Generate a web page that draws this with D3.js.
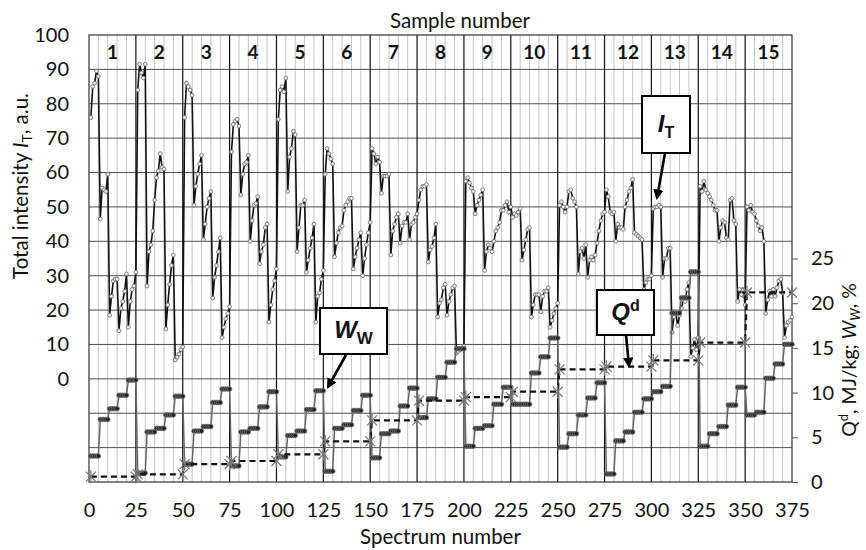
<!DOCTYPE html>
<html>
<head>
<meta charset="utf-8">
<script src="https://cdn.jsdelivr.net/npm/d3@7"></script>
<style>
  body { margin: 0; background: #fff; }
  svg text { font-family: Lato, "Open Sans", sans-serif; fill: #111; }
</style>
</head>
<body>
<svg id="chart" width="866" height="550"></svg>
<script>
// sample numbers shown in the top row
const sampleLabels = ["1","2","3","4","5","6","7","8","9","10","11","12","13","14","15"];

// total intensity I_T for spectra 1..375 (one row per sample, 25 spectra)
const intensity = [
  76, 85, 86, 89.5, 88, 46.5, 55.5, 55, 54.5, 59.5, 18.5, 24, 28.5, 29, 29, 14, 20.5, 22.5, 25.5, 30.5, 15, 22.5, 26, 27, 31,
  84, 91.5, 89, 87.5, 91.5, 27, 37, 39, 43, 52, 58.5, 60.5, 65.5, 61.5, 61, 14.5, 21.5, 27.5, 33, 36, 5.5, 6.3, 7.2, 8.5, 9.3,
  76, 86, 85, 84, 82.5, 50.5, 56, 59.5, 62.5, 65, 40.5, 45, 50, 52.5, 54.5, 23.5, 29.5, 33, 37, 41, 12, 15, 17.5, 19, 21,
  66, 74, 75, 75.5, 73.5, 53.5, 59.5, 62.5, 63, 65, 40, 46, 50.5, 51, 53, 33.5, 37, 39, 44, 45, 16.5, 21.5, 26, 28.5, 32,
  75.5, 84, 85, 83.5, 87.5, 54.5, 64.5, 67, 72, 71, 37, 44, 50.5, 50.5, 52, 31, 34.5, 38, 41, 45, 16.5, 24, 25, 29, 31.5,
  59.5, 67, 65.5, 64, 62.5, 35.5, 39.5, 42.5, 44, 44.5, 49, 50.5, 51.5, 52.5, 52.5, 32, 35.5, 38, 40.5, 42.5, 30, 35, 39, 42.5, 45.5,
  67, 65.5, 62.5, 64.5, 63, 54, 59, 59, 59, 59.5, 36, 43, 45, 47, 48, 39.5, 44.5, 45.5, 45.5, 48, 40.5, 45, 45.5, 47, 48,
  52, 55, 56, 56, 56.5, 34, 37.5, 38.5, 41, 45, 18, 22, 23, 26.5, 27.5, 18.5, 22.5, 24.5, 26.5, 27, 7.5, 8, 8.5, 9, 9.5,
  57.5, 58.5, 57, 55.5, 54.5, 48, 50.5, 52, 53.5, 55, 31.5, 37, 39, 38, 37, 40, 43, 44, 45.5, 49, 49, 50.5, 51.5, 48.5, 50,
  47, 48, 47.5, 48.5, 49.5, 34.5, 37.5, 40.5, 43.5, 44, 18, 21.5, 24.5, 24.5, 24.5, 19.5, 24, 25.5, 25.5, 26.5, 15, 17, 19, 20.5, 22,
  50.5, 51.5, 50, 48.5, 50, 54.5, 55, 52.5, 51.5, 50, 30.5, 37, 38, 35, 39, 29.5, 34.5, 35.5, 34.5, 36, 39.5, 43, 46, 48, 48.5,
  55, 53, 48.5, 48, 48.5, 40, 45, 44, 44, 43.5, 50, 52, 54.5, 55.5, 58, 42.5, 42, 41.5, 41, 40.5, 26, 28, 29, 29, 30,
  49.5, 50, 50, 50.5, 50, 29.5, 35, 35, 38, 38, 13.5, 18, 19, 15.5, 18.5, 20.5, 23, 22.5, 26, 28, 6.5, 9, 11.5, 8.5, 12,
  56, 54.5, 57.5, 55, 54, 53, 52, 50.5, 49, 49, 40, 44, 46, 45.5, 41, 40.5, 52, 52.5, 46, 45, 22.5, 26, 24.5, 26, 21.5,
  50, 49, 50.5, 48.5, 48, 46, 44.5, 43, 44, 40, 19, 23, 25.5, 24, 26, 24, 26.5, 28.5, 29, 25, 12, 15.5, 16.5, 17, 18
];

// moisture W_W, %, one value per group of 5 spectra (5 groups per sample)
const moisture = [
  2.9, 7.0, 8.2, 9.7, 11.4,
  1.0, 5.6, 6.0, 7.5, 9.6,
  2.0, 5.7, 6.2, 8.9, 10.4,
  1.8, 5.6, 6.0, 8.4, 10.1,
  2.8, 5.2, 5.7, 8.1, 10.2,
  1.2, 6.0, 6.4, 8.0, 9.7,
  2.7, 5.4, 5.7, 8.5, 10.5,
  7.2, 9.3, 11.7, 13.4, 14.9,
  4.0, 6.0, 6.3, 8.7, 10.6,
  8.7, 8.7, 12.2, 14.0, 16.1,
  3.9, 5.4, 7.5, 9.4, 11.1,
  0.9, 4.6, 5.6, 7.8, 9.3,
  10.1, 10.7, 18.9, 20.6, 23.5,
  4.0, 5.4, 6.2, 8.6, 10.6,
  7.5, 7.8, 11.6, 13.2, 15.4
];

// heat of combustion Q^d, MJ/kg, one value per sample
const heat = [0.6, 0.85, 2.0, 2.35, 3.1, 4.55, 6.9, 9.1, 9.5, 10.1, 12.6, 12.9, 13.6, 15.6, 21.2];

const xTicks = [0, 25, 50, 75, 100, 125, 150, 175, 200, 225, 250, 275, 300, 325, 350, 375];
const leftTicks = [0, 10, 20, 30, 40, 50, 60, 70, 80, 90, 100];
const rightTicks = [0, 5, 10, 15, 20, 25];

const svg = d3.select("#chart");
const plotLeft = 89, plotRight = 792, plotTop = 35, plotBottom = 482;

const x = d3.scaleLinear().domain([0, 375]).range([plotLeft, plotRight]);
const yL = d3.scaleLinear().domain([-30, 100]).range([plotBottom, plotTop]);
const yR = d3.scaleLinear().domain([0, 50]).range([plotBottom, plotTop]);

// gridlines
const grid = svg.append("g");
grid.selectAll("line.minor")
  .data(d3.range(5, 375, 5).filter(d => d % 25 !== 0))
  .join("line")
  .attr("class", "minor")
  .attr("x1", d => x(d)).attr("x2", d => x(d))
  .attr("y1", plotTop).attr("y2", plotBottom)
  .attr("stroke", "#c4c4c4").attr("stroke-width", 1);

grid.selectAll("line.hgrid")
  .data(d3.range(-20, 100, 10))
  .join("line")
  .attr("class", "hgrid")
  .attr("x1", plotLeft).attr("x2", plotRight)
  .attr("y1", d => yL(d)).attr("y2", d => yL(d))
  .attr("stroke", "#505050").attr("stroke-width", 1);

grid.selectAll("line.major")
  .data(xTicks.slice(1, -1))
  .join("line")
  .attr("class", "major")
  .attr("x1", d => x(d)).attr("x2", d => x(d))
  .attr("y1", plotTop).attr("y2", plotBottom)
  .attr("stroke", "#111").attr("stroke-width", 1.2);

svg.append("rect")
  .attr("x", plotLeft).attr("y", plotTop)
  .attr("width", plotRight - plotLeft).attr("height", plotBottom - plotTop)
  .attr("fill", "none").attr("stroke", "#333").attr("stroke-width", 1.2);

// sample numbers in the top row
svg.append("g").selectAll("text")
  .data(sampleLabels)
  .join("text")
  .attr("x", (d, i) => x(i * 25 + 12.5))
  .attr("y", (yL(100) + yL(90)) / 2 + 7)
  .attr("text-anchor", "middle")
  .attr("font-size", 19)
  .attr("font-weight", "bold")
  .text(d => d);

// axes
const axL = svg.append("g")
  .attr("transform", `translate(${plotLeft},0)`)
  .call(d3.axisLeft(yL).tickValues(leftTicks).tickSize(0).tickPadding(20));
const axB = svg.append("g")
  .attr("transform", `translate(0,${plotBottom})`)
  .call(d3.axisBottom(x).tickValues(xTicks).tickSize(0).tickPadding(21));
const axR = svg.append("g")
  .attr("transform", `translate(${plotRight},0)`)
  .call(d3.axisRight(yR).tickValues(rightTicks).tickSizeInner(6).tickSizeOuter(0).tickPadding(13));

[axL, axB, axR].forEach(a => {
  a.select(".domain").remove();
  a.selectAll("text").attr("font-size", 20).attr("fill", "#111")
    .attr("font-family", "Lato, 'Open Sans', sans-serif");
});
axR.selectAll(".tick line").attr("stroke", "#555");

// axis titles
svg.append("text")
  .attr("x", 460).attr("y", 28)
  .attr("text-anchor", "middle").attr("font-size", 20.5)
  .text("Sample number");

svg.append("text")
  .attr("x", (plotLeft + plotRight) / 2).attr("y", 544)
  .attr("text-anchor", "middle").attr("font-size", 20.5)
  .text("Spectrum number");

const tl = svg.append("text")
  .attr("transform", "translate(28,186) rotate(-90)")
  .attr("text-anchor", "middle").attr("font-size", 20.5);
tl.append("tspan").text("Total intensity ");
tl.append("tspan").attr("font-style", "italic").text("I");
tl.append("tspan").attr("font-size", 14).attr("dy", 4).text("T");
tl.append("tspan").attr("dy", -4).text(", a.u.");

const tr = svg.append("text")
  .attr("transform", "translate(856,360) rotate(-90)")
  .attr("text-anchor", "middle").attr("font-size", 19.5);
tr.append("tspan").text("Q");
tr.append("tspan").attr("font-size", 13).attr("dy", -8).text("d");
tr.append("tspan").attr("dy", 8).text(", MJ/kg; ");
tr.append("tspan").attr("font-style", "italic").text("W");
tr.append("tspan").attr("font-style", "italic").attr("font-size", 13).attr("dy", 4).text("W");
tr.append("tspan").attr("dy", -4).text(", %");

// series data
const itData = intensity.map((v, i) => ({ s: i + 1, v }));
const wData = d3.range(intensity.length).map(i => ({ s: i + 1, v: moisture[Math.floor(i / 5)] }));
const qData = heat.flatMap((v, k) => [{ s: k * 25 + 1, v }, { s: k * 25 + 25, v }]);

// I_T line
svg.append("path")
  .datum(itData)
  .attr("fill", "none").attr("stroke", "#111").attr("stroke-width", 1.6)
  .attr("d", d3.line().x(d => x(d.s)).y(d => yL(d.v)));
svg.append("g").selectAll("circle")
  .data(itData)
  .join("circle")
  .attr("cx", d => x(d.s)).attr("cy", d => yL(d.v)).attr("r", 1.9)
  .attr("fill", "#eee").attr("stroke", "#666").attr("stroke-width", 0.8);

// W_W line
svg.append("path")
  .datum(wData)
  .attr("fill", "none").attr("stroke", "#666").attr("stroke-width", 1.5)
  .attr("d", d3.line().x(d => x(d.s)).y(d => yR(d.v)));
svg.append("g").selectAll("circle")
  .data(wData)
  .join("circle")
  .attr("cx", d => x(d.s)).attr("cy", d => yR(d.v)).attr("r", 2.3)
  .attr("fill", "#222").attr("stroke", "#777").attr("stroke-width", 0.8);

// Q^d line
svg.append("path")
  .datum(qData)
  .attr("fill", "none").attr("stroke", "#111").attr("stroke-width", 2.2)
  .attr("stroke-dasharray", "6,4")
  .attr("d", d3.line().x(d => x(d.s)).y(d => yR(d.v)));
svg.append("g").selectAll("path")
  .data(qData)
  .join("path")
  .attr("transform", d => `translate(${x(d.s)},${yR(d.v)})`)
  .attr("d", "M-5,-5L5,5M-5,5L5,-5M0,-6.5L0,6.5")
  .attr("stroke", "#777").attr("stroke-width", 1.2).attr("fill", "none");

// callouts
svg.append("defs").append("marker")
  .attr("id", "arrow").attr("viewBox", "0 0 10 10")
  .attr("refX", 8).attr("refY", 5)
  .attr("markerWidth", 4).attr("markerHeight", 4)
  .attr("orient", "auto")
  .append("path").attr("d", "M0,0L10,5L0,10Z").attr("fill", "#000");

function callout(bx, by, bw, bh, ax1, ay1, ax2, ay2, parts) {
  svg.append("line")
    .attr("x1", ax1).attr("y1", ay1).attr("x2", ax2).attr("y2", ay2)
    .attr("stroke", "#000").attr("stroke-width", 2.6)
    .attr("marker-end", "url(#arrow)");
  svg.append("rect")
    .attr("x", bx).attr("y", by).attr("width", bw).attr("height", bh)
    .attr("fill", "#fff").attr("stroke", "#000").attr("stroke-width", 2);
  const t = svg.append("text")
    .attr("x", bx + bw / 2).attr("y", by + bh / 2 + 7)
    .attr("text-anchor", "middle")
    .attr("font-family", "'Liberation Sans', Arial, sans-serif")
    .attr("font-weight", "bold");
  parts.forEach(p => {
    const s = t.append("tspan").attr("font-size", p.size).text(p.text)
      .attr("font-family", "'Liberation Sans', Arial, sans-serif");
    if (p.italic) s.attr("font-style", "italic");
    if (p.dy) s.attr("dy", p.dy);
  });
}

callout(642, 96, 48, 57, 665, 153, 657, 198, [
  { text: "I", size: 24, italic: true },
  { text: "T", size: 16, dy: 6 }
]);
callout(320, 308, 67, 46, 346, 355, 328, 387, [
  { text: "W", size: 24, italic: true },
  { text: "W", size: 17, dy: 6 }
]);
callout(597, 290, 57, 45, 626, 335, 629, 366, [
  { text: "Q", size: 24, italic: true },
  { text: "d", size: 16, dy: -9 }
]);
</script>
</body>
</html>
